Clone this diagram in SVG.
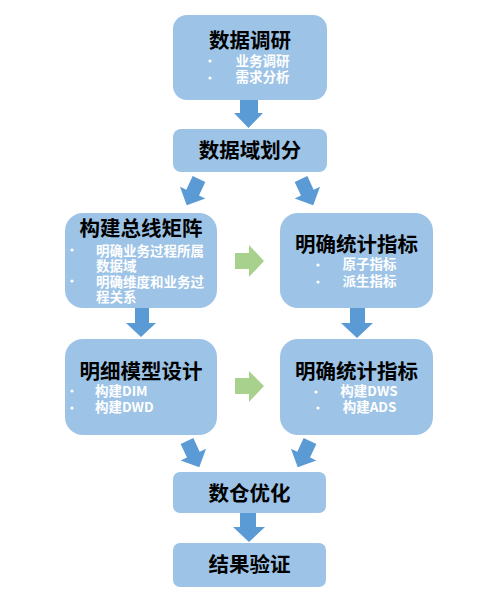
<svg xmlns="http://www.w3.org/2000/svg" width="487" height="596" viewBox="0 0 487 596">
<defs>
<style>
.box{fill:#9DC3E6;}
.t{font-family:"Noto Sans CJK SC","Microsoft YaHei",sans-serif;font-weight:bold;font-size:20.5px;fill:#000;text-anchor:middle;}
.b{font-family:"Noto Sans CJK SC","Microsoft YaHei",sans-serif;font-weight:bold;font-size:13.5px;fill:#fff;}
.bc{text-anchor:middle;}
.dot{fill:#fff;}
.ba{fill:#5B9BD5;}
.ga{fill:#A9D18E;}
</style>
<path id="darr" d="M-7,0 L7,0 L7,15 L14,15 L0,29 L-14,15 L-7,15 Z"/>
</defs>
<rect width="487" height="596" fill="#fff"/>
<g id="connectors">
<polygon class="ba" points="240,100 258,100 258,113 263,113 248.5,128 234,113 240,113"/>
<use href="#darr" class="ba" transform="translate(199,179) rotate(25)"/>
<use href="#darr" class="ba" transform="translate(301,179) rotate(-25)"/>
<polygon class="ba" points="135,308 149,308 149,323 156,323 141,337 126,323 135,323"/>
<polygon class="ba" points="350,308 365,308 365,323 373,323 357,338 341,323 350,323"/>
<polygon class="ga" points="235,253 249,253 249,245 264,261 249,277 249,269 235,269"/>
<polygon class="ga" points="235,378 249,378 249,371 264,386 249,402 249,394 235,394"/>
<use href="#darr" class="ba" transform="translate(187,441) rotate(-25)"/>
<use href="#darr" class="ba" transform="translate(310,441) rotate(25)"/>
<polygon class="ba" points="240,513 256,513 256,527 265,527 249,542 233,527 240,527"/>
</g>
<g id="node-research">
<rect class="box" x="173" y="15" width="154" height="85" rx="14"/>
<text class="t" x="250" y="48">数据调研</text>
<circle class="dot" cx="210" cy="61" r="1.6"/>
<circle class="dot" cx="210" cy="78" r="1.6"/>
<text class="b bc" x="262.5" y="66">业务调研</text>
<text class="b bc" x="262.5" y="82">需求分析</text>
</g>
<g id="node-domain">
<rect class="box" x="173" y="129" width="154" height="43" rx="8"/>
<text class="t" x="250" y="158">数据域划分</text>
</g>
<g id="node-bus">
<rect class="box" x="65" y="213" width="152" height="95" rx="18"/>
<text class="t" x="141" y="236">构建总线矩阵</text>
<circle class="dot" cx="72" cy="250" r="1.6"/>
<circle class="dot" cx="72" cy="281" r="1.6"/>
<text class="b" x="96" y="256">明确业务过程所属</text>
<text class="b" x="96" y="271">数据域</text>
<text class="b" x="96" y="287">明确维度和业务过</text>
<text class="b" x="96" y="302">程关系</text>
</g>
<g id="node-metrics">
<rect class="box" x="280" y="213" width="153" height="95" rx="18"/>
<text class="t" x="356.5" y="252">明确统计指标</text>
<circle class="dot" cx="318" cy="265" r="1.6"/>
<circle class="dot" cx="318" cy="282" r="1.6"/>
<text class="b bc" x="369.5" y="269">原子指标</text>
<text class="b bc" x="369.5" y="286">派生指标</text>
</g>
<g id="node-detail">
<rect class="box" x="65" y="339" width="152" height="96" rx="18"/>
<text class="t" x="141" y="379">明细模型设计</text>
<circle class="dot" cx="72" cy="391" r="1.6"/>
<circle class="dot" cx="72" cy="408" r="1.6"/>
<text class="b" x="95" y="396">构建DIM</text>
<text class="b" x="95" y="412">构建DWD</text>
</g>
<g id="node-metrics2">
<rect class="box" x="280" y="339" width="153" height="96" rx="18"/>
<text class="t" x="356.5" y="379">明确统计指标</text>
<circle class="dot" cx="316" cy="392" r="1.6"/>
<circle class="dot" cx="318" cy="408" r="1.6"/>
<text class="b bc" x="369" y="396">构建DWS</text>
<text class="b bc" x="369.5" y="412">构建ADS</text>
</g>
<g id="node-optimize">
<rect class="box" x="173" y="472" width="153" height="41" rx="7"/>
<text class="t" x="249.5" y="501">数仓优化</text>
</g>
<g id="node-verify">
<rect class="box" x="173" y="543" width="153" height="44" rx="7"/>
<text class="t" x="249.5" y="572">结果验证</text>
</g>
</svg>
